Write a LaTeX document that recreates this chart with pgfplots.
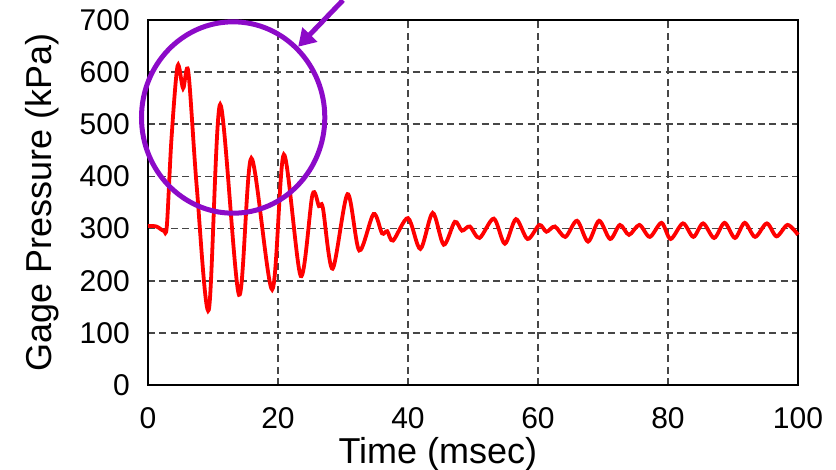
\documentclass[border=0pt]{standalone}
\usepackage{fontspec}
\setmainfont{Liberation Sans}
\usepackage{pgfplots}
\pgfplotsset{compat=1.18}
\usetikzlibrary{arrows.meta}
\definecolor{gridgray}{RGB}{70,70,70}
\definecolor{circpurple}{RGB}{140,10,200}
\begin{document}
\begin{tikzpicture}
\begin{axis}[
  scale only axis,
  width=650pt, height=365pt,
  xmin=0, xmax=100, ymin=0, ymax=700,
  xtick={0,20,40,60,80,100},
  ytick={0,100,200,300,400,500,600,700},
  major tick length=0pt,
  grid=major,
  major grid style={gridgray, line width=1.7pt, dash pattern=on 7pt off 4.5pt},
  axis line style={black, line width=2.6pt},
  /pgf/number format/assume math mode=true,
  ticklabel style={font=\fontsize{30}{36}\selectfont},
  yticklabel style={inner sep=0pt, anchor=east, xshift=-18pt},
  xticklabel style={inner sep=0pt, anchor=north, yshift=-22pt},
  label style={font=\fontsize{36}{42}\selectfont},
  xlabel={Time (msec)},
  ylabel={Gage Pressure (kPa)},
  xlabel style={at={(axis description cs:0.446,-0.2137)}, anchor=base, inner sep=0pt},
  ylabel style={at={(axis description cs:-0.1492,0.5)}, anchor=base, inner sep=0pt},
  clip=false,
]
\addplot[red, line width=3.8pt, smooth, tension=0.5] coordinates {
(0,305) (1.3,304) (2.4,296) (2.9,305) (3.6,470) (4.55,612) (5.4,569) (6.2,601)
(7.5,380) (9.35,144) (11.1,538) (14.0,173) (15.9,435) (19.1,183) (20.9,442)
(23.5,209) (25.3,365) (26.3,343) (26.9,340) (28.4,223) (30.7,366) (32.5,258)
(34.7,328) (36.0,291) (36.8,295) (37.7,277) (40.0,320) (41.9,261) (43.8,330)
(45.5,269) (47.2,313) (48.3,296) (49.5,304) (51.0,282) (53.2,319) (54.9,271)
(56.6,318) (58.4,280) (60.2,307) (61.3,294) (62.6,304) (64.2,284) (66.0,315)
(67.7,275) (69.4,315) (71.1,280) (72.6,307) (74.0,288) (75.6,307) (77.2,284)
(79.0,311) (80.4,280) (82.3,310) (83.9,284) (85.4,310) (87.1,282) (88.7,311)
(90.3,282) (91.8,311) (93.4,284) (95.2,310) (96.7,285) (98.4,307) (100,288)
};
\draw[circpurple, line width=5pt] (axis cs:13.1,513) ellipse [x radius=14.1, y radius=183.5];
\draw[circpurple, line width=5pt, -{Triangle[length=17pt,width=20pt]}] (axis cs:30.0,738) -- (axis cs:23.1,648.7);
\end{axis}
\pgfresetboundingbox
\path[use as bounding box] (-148pt,-84pt) rectangle (688pt,385pt);
\end{tikzpicture}
\end{document}
